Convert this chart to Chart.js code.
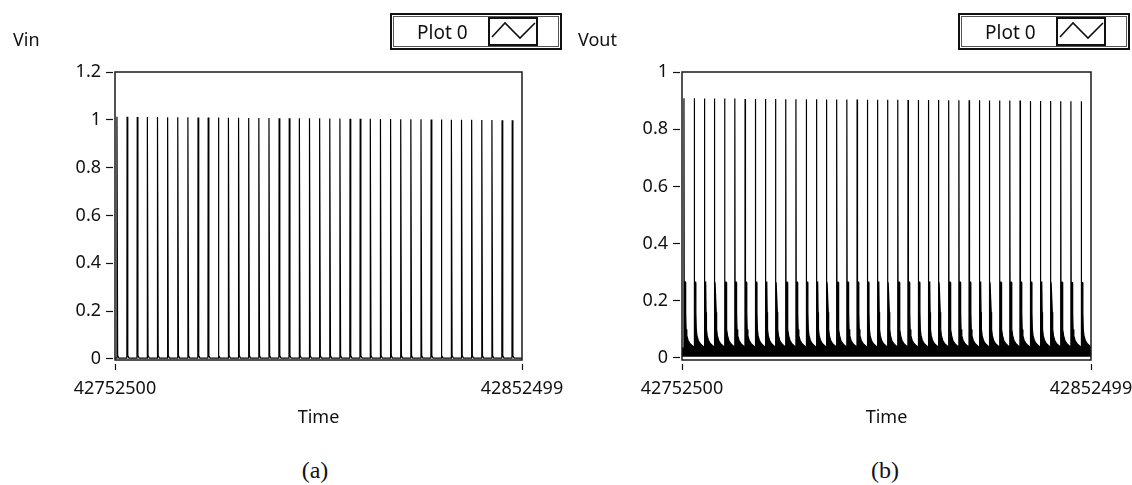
<!DOCTYPE html>
<html>
<head>
<meta charset="utf-8">
<script src="https://cdn.jsdelivr.net/npm/chart.js@4/dist/chart.umd.min.js"></script>
<style>
  html, body { margin: 0; padding: 0; background: #fff; }
  body { width: 1132px; height: 485px; position: relative; overflow: hidden;
         font-family: "Noto Sans", sans-serif; color: #111; }
  canvas { position: absolute; top: 0; }
  #cvIn  { left: 0; }
  #cvOut { left: 565px; }
  .ylab { position: absolute; top: 30px; font-size: 18px; line-height: 18px; }
  .legend { position: absolute; top: 13px; width: 172px; height: 37px; box-sizing: border-box;
            border: 2px solid #111; box-shadow: inset 0 0 0 1px #fff, inset 0 0 0 2px #555; }
  .legend .txt { position: absolute; left: 25px; top: 8px; font-size: 19px; line-height: 19px; }
  .legend .icon { position: absolute; left: 96px; top: 2px; width: 50px; height: 29px;
                  box-sizing: border-box; border: 2px solid #111; }
  .legend svg { position: absolute; left: 0; top: 0; }
  .cap { position: absolute; top: 457px; width: 60px; text-align: center;
         font-family: "Liberation Serif", "Times New Roman", serif; font-size: 24px; line-height: 26px; }
</style>
</head>
<body>
<canvas id="cvIn" width="578" height="445"></canvas>
<canvas id="cvOut" width="582" height="445"></canvas>

<div class="ylab" style="left:13px">Vin</div>
<div class="ylab" style="left:578px">Vout</div>

<div class="legend" style="left:390px">
  <div class="txt">Plot 0</div>
  <div class="icon"><svg width="46" height="25"><polyline points="2,18 15,4 30,19 45,4" fill="none" stroke="#111" stroke-width="1.6"/></svg></div>
</div>
<div class="legend" style="left:958px">
  <div class="txt">Plot 0</div>
  <div class="icon"><svg width="46" height="25"><polyline points="2,18 15,4 30,19 45,4" fill="none" stroke="#111" stroke-width="1.6"/></svg></div>
</div>

<div class="cap" style="left:285px">(a)</div>
<div class="cap" style="left:855px">(b)</div>

<script>
// Time window (sample index) shown on both graphs
const timeStart = 42752500;
const timeEnd = 42852499;
const timeTicks = [42752500, 42852499];

// Pulse positions, as offsets from timeStart
const pulseOffsets = [480, 2970, 5460, 7950, 10440, 12930, 15420, 17910, 20400, 22890,
  25380, 27870, 30360, 32850, 35340, 37830, 40320, 42810, 45300, 47790,
  50280, 52770, 55260, 57750, 60240, 62730, 65220, 67710, 70200, 72690,
  75180, 77670, 80160, 82650, 85140, 87630, 90120, 92610, 95100, 97590];

// Input pulse peaks (Vin)
const vinPeaks = [1.013, 1.013, 1.012, 1.012, 1.012, 1.011, 1.011, 1.011, 1.010, 1.010,
  1.010, 1.009, 1.009, 1.008, 1.008, 1.008, 1.007, 1.007, 1.006, 1.006,
  1.006, 1.005, 1.005, 1.004, 1.004, 1.004, 1.003, 1.003, 1.002, 1.002,
  1.002, 1.001, 1.001, 1.000, 1.000, 1.000, 0.999, 0.999, 0.998, 0.998];
const vinBase = 0.003;
// one input pulse: offsets after the pulse and levels
const vinPulseOffsets = [-60, 0, 170, 450];
const vinPulseLevels = [0.003, null, 0.014, 0.003];   // null = the pulse peak

// Output pulse peaks (Vout) and the ringing right after each pulse
const voutPeaks = [0.908, 0.908, 0.907, 0.907, 0.907, 0.907, 0.906, 0.906, 0.906, 0.906,
  0.905, 0.905, 0.905, 0.905, 0.904, 0.904, 0.904, 0.904, 0.903, 0.903,
  0.903, 0.903, 0.902, 0.902, 0.902, 0.902, 0.901, 0.901, 0.901, 0.901,
  0.900, 0.900, 0.900, 0.900, 0.899, 0.899, 0.899, 0.898, 0.898, 0.898];
const voutRing = [0.266, 0.265, 0.265, 0.265, 0.265, 0.265, 0.265, 0.265, 0.265, 0.265,
  0.265, 0.265, 0.265, 0.265, 0.265, 0.265, 0.265, 0.265, 0.265, 0.265,
  0.265, 0.265, 0.265, 0.265, 0.265, 0.265, 0.265, 0.265, 0.265, 0.265,
  0.265, 0.265, 0.265, 0.265, 0.265, 0.265, 0.265, 0.265, 0.264, 0.264];
const voutNoiseTop = 0.035;     // upper edge of the noise band
const voutNoiseBottom = 0.004;  // lower edge of the noise band
// decay of the ringing after each output pulse
const voutTailOffsets = [130, 330, 420, 520, 700, 1000, 1500, 2100, 2400];
const voutTailLevels = [null, null, 0.16, 0.10, 0.078, 0.062, 0.05, 0.042, 0.038]; // null = ring peak

const vinTicks = [0, 0.2, 0.4, 0.6, 0.8, 1, 1.2];
const voutTicks = [0, 0.2, 0.4, 0.6, 0.8, 1];

// ---- build point lists ----
function vinPoints() {
  const pts = [{ x: timeStart, y: vinBase }];
  pulseOffsets.forEach((o, i) => {
    const t = timeStart + o;
    vinPulseOffsets.forEach((d, k) => {
      pts.push({ x: t + d, y: vinPulseLevels[k] === null ? vinPeaks[i] : vinPulseLevels[k] });
    });
  });
  pts.push({ x: timeEnd, y: vinBase });
  return pts;
}
function voutPoints() {
  const pts = [{ x: timeStart, y: voutNoiseTop }];
  pulseOffsets.forEach((o, i) => {
    const t = timeStart + o;
    pts.push({ x: t - 30, y: voutNoiseTop });
    pts.push({ x: t, y: voutPeaks[i] });
    pts.push({ x: t + 70, y: voutNoiseTop });
    voutTailOffsets.forEach((d, k) => {
      pts.push({ x: t + d, y: voutTailLevels[k] === null ? voutRing[i] : voutTailLevels[k] });
    });
  });
  pts.push({ x: timeEnd, y: voutNoiseTop });
  return pts;
}

// frame around the plot area
const framePlugin = {
  id: 'frame',
  afterDatasetsDraw(chart) {
    const { ctx, chartArea: a } = chart;
    ctx.save();
    ctx.strokeStyle = '#1a1a1a';
    ctx.lineWidth = 1.5;
    ctx.strokeRect(a.left, a.top, a.right - a.left, a.bottom - a.top);
    ctx.restore();
  }
};

Chart.defaults.font.family = "'Noto Sans', sans-serif";
Chart.defaults.font.size = 18;
Chart.defaults.color = '#111';

function makeChart(id, data, fillCfg, yMin, yMax, yTicks, leftW, rightPad) {
  return new Chart(document.getElementById(id), {
    type: 'line',
    data: {
      datasets: [{
        label: 'Plot 0',
        data: data,
        borderColor: '#000',
        backgroundColor: '#000',
        borderWidth: 1.2,
        pointRadius: 0,
        tension: 0,
        fill: fillCfg
      }]
    },
    options: {
      responsive: false,
      animation: false,
      events: [],
      layout: { padding: { left: 0, right: rightPad, top: 72, bottom: 0 } },
      plugins: { legend: { display: false }, tooltip: { enabled: false } },
      scales: {
        x: {
          type: 'linear',
          min: timeStart,
          max: timeEnd,
          border: { display: false },
          grid: { drawOnChartArea: false, color: '#111', tickLength: 10,
                  tickBorderDash: [0, 4, 6, 20], tickWidth: 1.2 },
          ticks: { maxRotation: 0, autoSkip: false, padding: 8,
                   callback: v => String(v) },
          afterBuildTicks: s => { s.ticks = timeTicks.map(v => ({ value: v })); },
          afterFit: s => { s.height = 85; },
          title: { display: true, text: 'Time', padding: { top: 0, bottom: 16 } }
        },
        y: {
          min: yMin,
          max: yMax,
          border: { display: false },
          grid: { drawOnChartArea: false, color: '#111', tickLength: 9,
                  tickBorderDash: [7, 2], tickWidth: 1.2 },
          ticks: { padding: 5, callback: v => String(Math.round(v * 10) / 10) },
          afterBuildTicks: s => { s.ticks = yTicks.map(v => ({ value: v })); },
          afterFit: s => { s.width = leftW; }
        }
      }
    },
    plugins: [framePlugin]
  });
}

// plot areas: Vin 115..522, Vout 682..1091 (page pixels)
makeChart('cvIn', vinPoints(), false, -0.005, 1.2, vinTicks, 115, 578 - 522);
makeChart('cvOut', voutPoints(), { value: voutNoiseBottom }, -0.007, 1.0, voutTicks, 117, 582 - (1091 - 565));
</script>
</body>
</html>
